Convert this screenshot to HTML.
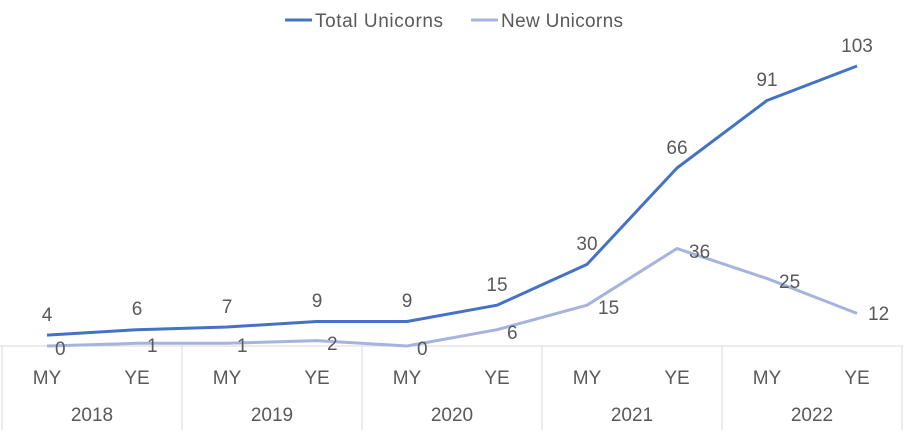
<!DOCTYPE html>
<html><head><meta charset="utf-8"><style>body{margin:0;background:#fff}svg{display:block}text{font-family:"Liberation Sans",sans-serif;font-size:19px;fill:#595959}</style></head>
<body>
<svg width="907" height="446" viewBox="0 0 907 446">
<line x1="285" y1="20" x2="312" y2="20" stroke="#4472c4" stroke-width="3"/>
<text x="315" y="27" textLength="128">Total Unicorns</text>
<line x1="471" y1="20" x2="498" y2="20" stroke="#a5b4de" stroke-width="3"/>
<text x="501" y="27" textLength="122">New Unicorns</text>
<g stroke="#d9d9d9" stroke-width="1">
<line x1="0" y1="346" x2="903" y2="346"/>
<line x1="2" y1="346" x2="2" y2="430"/><line x1="182" y1="346" x2="182" y2="430"/><line x1="362" y1="346" x2="362" y2="430"/><line x1="542" y1="346" x2="542" y2="430"/><line x1="722" y1="346" x2="722" y2="430"/><line x1="902" y1="346" x2="902" y2="430"/>
</g>
<polyline fill="none" stroke="#a5b4de" stroke-width="3" stroke-linejoin="round" points="47,346 137,343.3 227,343.3 317,340.6 407,346 497,329.7 587,305.2 677,248.5 767,278.5 857,313.4"/>
<polyline fill="none" stroke="#4472c4" stroke-width="3" stroke-linejoin="round" points="47,335.1 137,329.7 227,327 317,321.5 407,321.5 497,305.2 587,264.4 677,168 767,100.5 857,66"/>
<g text-anchor="middle">
<text x="47" y="321">4</text><text x="137" y="315">6</text><text x="227" y="313">7</text><text x="317" y="307">9</text><text x="407" y="307">9</text><text x="497" y="291">15</text><text x="587" y="250">30</text><text x="677" y="154">66</text><text x="767" y="86">91</text><text x="857" y="52">103</text>
</g>
<g>
<text x="55" y="355">0</text><text x="147" y="352">1</text><text x="237" y="352">1</text><text x="327" y="350">2</text><text x="417" y="355">0</text><text x="507" y="339">6</text><text x="598" y="314">15</text><text x="689" y="258">36</text><text x="779" y="288">25</text><text x="868" y="320">12</text>
</g>
<g text-anchor="middle">
<text x="47" y="384">MY</text><text x="137" y="384">YE</text><text x="227" y="384">MY</text><text x="317" y="384">YE</text><text x="407" y="384">MY</text><text x="497" y="384">YE</text><text x="587" y="384">MY</text><text x="677" y="384">YE</text><text x="767" y="384">MY</text><text x="857" y="384">YE</text>
<text x="92" y="421">2018</text><text x="272" y="421">2019</text><text x="452" y="421">2020</text><text x="632" y="421">2021</text><text x="812" y="421">2022</text>
</g>
</svg>
</body></html>
